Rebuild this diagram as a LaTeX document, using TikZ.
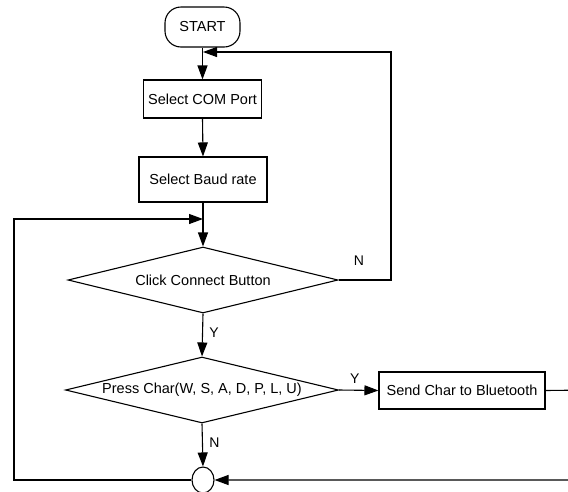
\documentclass[tikz,border=0pt]{standalone}
\usepackage{fontspec}
\setmainfont{Liberation Sans}
\usetikzlibrary{shapes.geometric,arrows.meta}
\begin{document}
\begin{tikzpicture}[x=1pt,y=-1pt,
  every node/.style={font=\fontsize{14.5}{16}\selectfont},
  line/.style={draw=black,line width=1.1pt},
  arr/.style={line,-{Triangle[length=14pt,width=10pt]}},
  stepbox/.style={draw=black,line width=1.1pt,fill=white,rectangle,inner sep=1pt},
  decision/.style={draw=black,line width=1.1pt,fill=white,diamond,inner sep=0pt,shape aspect=4.09},
  term/.style={draw=black,line width=1.1pt,fill=white,rectangle,rounded corners=16pt,inner sep=1pt},
  lbl/.style={font=\fontsize{14}{16}\selectfont}
]
\useasboundingbox (0,0) rectangle (568,491);
\node[term,minimum width=75pt,minimum height=40pt] (start) at (202.5,27) {START};
\node[stepbox,minimum width=118pt,minimum height=38pt] (com) at (202.5,99) {Select COM Port};
\node[stepbox,minimum width=128pt,minimum height=45pt] (baud) at (203,179.5) {Select Baud rate};
\node[decision,minimum width=270pt,minimum height=66pt] (conn) at (203,280) {Click Connect Button};
\node[decision,minimum width=273pt,minimum height=66pt] (press) at (202,390) {Press Char(W, S, A, D, P, L, U)};
\node[stepbox,minimum width=166pt,minimum height=37pt] (send) at (462,390.5) {Send Char to Bluetooth};
\node[ellipse,draw=black,line width=1.1pt,fill=white,minimum width=22pt,minimum height=26pt,inner sep=0pt] (join) at (203,480) {};
\coordinate (top) at (203,52);
\coordinate (mid) at (203,219);
\coordinate (rt) at (391,52);
\coordinate (lf) at (14,219);
\coordinate (farR) at (590,390);

\draw[arr] (start.south) -- (com.north);
\draw[arr] (com.south) -- (baud.north);
\draw[arr] (baud.south) -- (conn.north);
\draw[arr] (conn.south) -- node[lbl,right=3pt,pos=0.45]{Y} (press.north);
\draw[arr] (press.south) -- node[lbl,right=3pt,pos=0.45]{N} (join.north);
\draw[arr] (press.east) -- node[lbl,above=3pt,pos=0.4]{Y} (send.west);
\draw[arr] (conn.east) -| (rt) -- (top);
\node[lbl] (nlab) at (359,261) {N};
\draw[arr] (join.west) -| (lf) -- (mid);
\draw[arr] (send.east) -- (farR) |- (join.east);
\end{tikzpicture}
\end{document}
